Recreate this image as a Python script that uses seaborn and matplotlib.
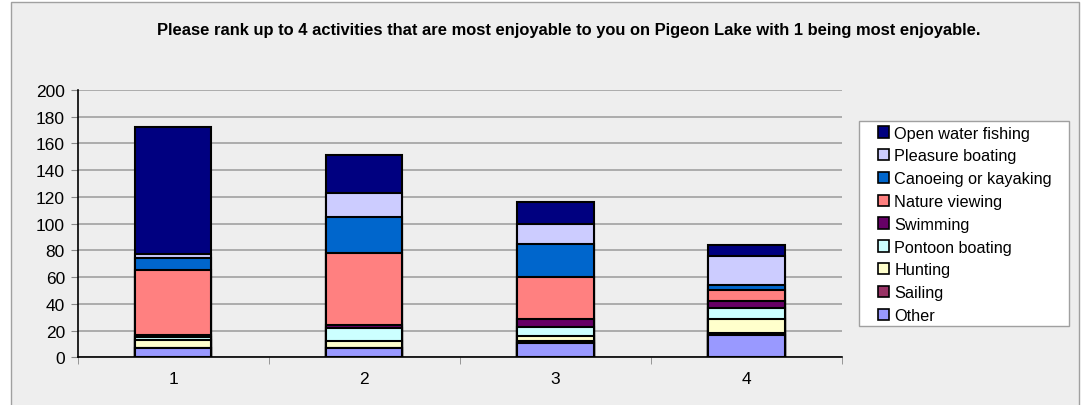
import matplotlib
matplotlib.use("Agg")
import matplotlib.pyplot as plt
from matplotlib.patches import Rectangle, Patch
import numpy as np
import pandas as pd
import seaborn as sns

# Ranks shown on the x axis
ranks = ["1", "2", "3", "4"]

# Activity counts per rank (stacking order: bottom to top)
other = [7, 7, 11, 17]
sailing = [0, 0, 1, 1]
hunting = [6, 5, 4, 11]
pontoon_boating = [2, 10, 7, 8]
swimming = [2, 2, 6, 5]
nature_viewing = [48, 54, 31, 8]
canoeing_kayaking = [9, 27, 25, 4]
pleasure_boating = [3, 18, 15, 22]
open_water_fishing = [95, 28, 16, 8]

activities = ["Other", "Sailing", "Hunting", "Pontoon boating", "Swimming",
              "Nature viewing", "Canoeing or kayaking", "Pleasure boating",
              "Open water fishing"]
series = [other, sailing, hunting, pontoon_boating, swimming,
          nature_viewing, canoeing_kayaking, pleasure_boating,
          open_water_fishing]
colors = ["#9999FF", "#993366", "#FFFFCC", "#CCFFFF", "#660066",
          "#FF8080", "#0066CC", "#CCCCFF", "#000080"]

title = ("Please rank up to 4 activities that are most enjoyable to you on "
         "Pigeon Lake with 1 being most enjoyable.")

# Long-form table with cumulative tops for the stacked bars
rows = []
for act, vals in zip(activities, series):
    for r, v in zip(ranks, vals):
        rows.append({"rank": r, "activity": act, "count": v})
df = pd.DataFrame(rows)
df["activity"] = pd.Categorical(df["activity"], categories=activities, ordered=True)
df = df.sort_values(["rank", "activity"])
df["top"] = df.groupby("rank")["count"].cumsum()

W, H = 1083, 406
fig = plt.figure(figsize=(W / 100, H / 100), dpi=100)
fig.patch.set_facecolor("white")
bg = "#EEEEEE"
fig.patches.append(Rectangle((11 / W, -0.05), (1079 - 11) / W, 1.05 - 3 / H,
                             transform=fig.transFigure, facecolor=bg,
                             edgecolor="#A0A0A0", linewidth=1.0, zorder=-10))

ax = fig.add_axes([77.5 / W, (H - 358.3) / H, (842 - 77.5) / W, (358.3 - 91) / H])
ax.set_facecolor(bg)

# Draw cumulative heights from the top layer down so each segment shows
for act, col in zip(reversed(activities), reversed(colors)):
    sub = df[df["activity"] == act]
    sns.barplot(data=sub, x="rank", y="top", order=ranks, color=col,
                width=0.4, edgecolor="black", linewidth=1.5,
                saturation=1, ax=ax, zorder=3)

ax.set_ylim(0, 200)
ax.set_xlim(-0.5, 3.5)
ax.set_yticks(np.arange(0, 201, 20))
ax.yaxis.grid(True, color="#A0A0A0", linewidth=1.2, zorder=0)
ax.xaxis.grid(False)
ax.set_axisbelow(True)
ax.set_xlabel("")
ax.set_ylabel("")
for s in ["top", "right"]:
    ax.spines[s].set_visible(False)
ax.spines["left"].set_color("black")
ax.spines["bottom"].set_color("black")
ax.spines["left"].set_linewidth(1.2)
ax.spines["bottom"].set_linewidth(1.2)

ax.tick_params(axis="y", length=5, color="#888888", labelsize=12.5, pad=4)
ax.tick_params(axis="x", length=0, labelsize=12.5, pad=10)
ax.set_xticks(range(4))
ax.set_xticklabels(ranks)
ax.set_xticks([-0.5, 0.5, 1.5, 2.5, 3.5], minor=True)
ax.tick_params(axis="x", which="minor", length=5, color="#888888")
for lab in ax.get_xticklabels() + ax.get_yticklabels():
    lab.set_fontfamily(["Liberation Sans", "DejaVu Sans"])

fig.text(569 / W, (H - 31) / H, title, ha="center", va="center",
         fontsize=11.9, fontweight="bold",
         family=["Liberation Sans", "DejaVu Sans"])

# Legend box drawn separately for wider side margins
fig.patches.append(Rectangle((858.7 / W, (H - 327) / H), (1068.7 - 858.7) / W,
                             (327 - 122.3) / H, transform=fig.transFigure,
                             facecolor="white", edgecolor="#A0A0A0",
                             linewidth=1.0, zorder=-5))

handles = [Patch(facecolor=c, edgecolor="black", linewidth=1.2, label=a)
           for a, c in zip(reversed(activities), reversed(colors))]
leg = fig.legend(handles=handles, loc="upper left",
                 bbox_to_anchor=(878 / W, (H - 126.5) / H),
                 prop={"family": ["Liberation Sans", "DejaVu Sans"], "size": 11.7},
                 frameon=False,
                 handlelength=0.7, handleheight=0.7, handletextpad=0.3,
                 labelspacing=0.48, borderpad=0, borderaxespad=0)

fig.savefig("out.png", dpi=100, facecolor=fig.get_facecolor())
